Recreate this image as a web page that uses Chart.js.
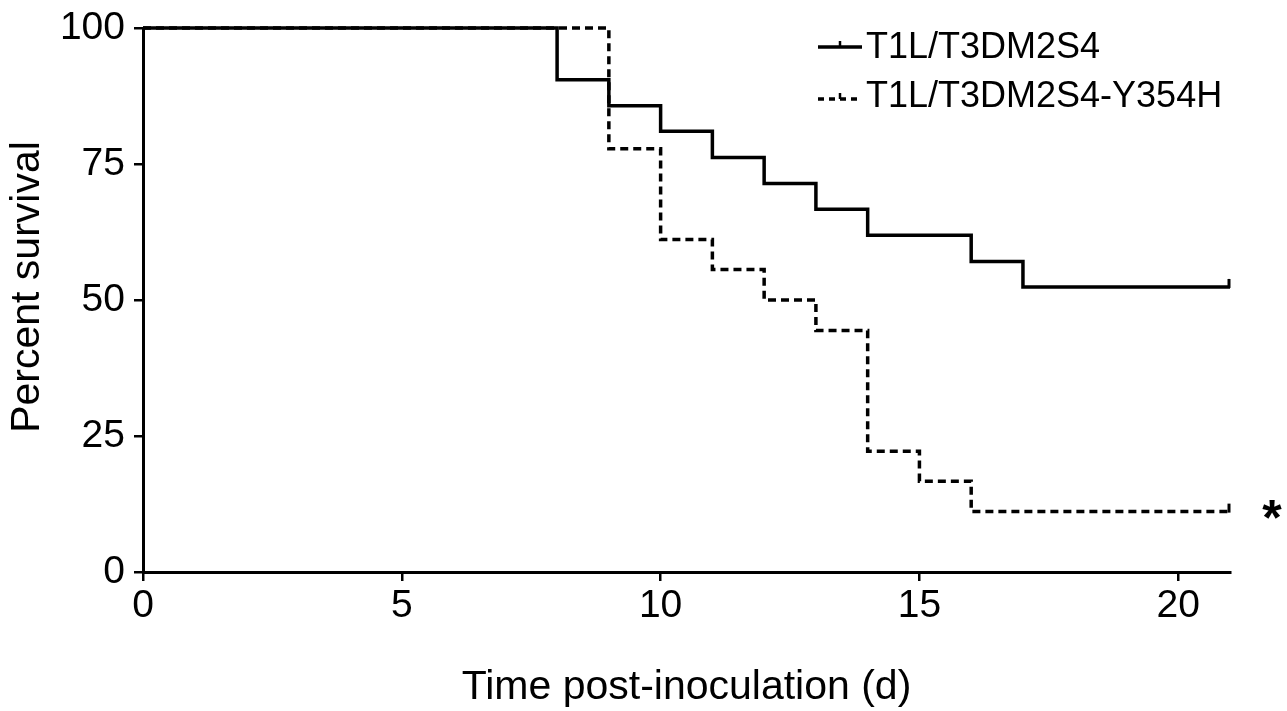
<!DOCTYPE html>
<html>
<head>
<meta charset="utf-8">
<script src="https://cdn.jsdelivr.net/npm/chart.js@4"></script>
<style>
  html, body { margin: 0; padding: 0; background: #fff; }
  #wrap { width: 1287px; height: 711px; }
</style>
</head>
<body>
<div id="wrap"><canvas id="c" width="1287" height="711"></canvas></div>
<script>
// ---- data ----
const seriesNames = ['T1L/T3DM2S4', 'T1L/T3DM2S4-Y354H'];
const timesA = [0, 8, 9, 10, 11, 12, 13, 14, 16, 17, 21];
const survA  = [100, 90.5, 85.7, 81.0, 76.2, 71.4, 66.7, 61.9, 57.1, 52.4, 52.4];
const timesB = [0, 9, 10, 11, 12, 13, 14, 15, 16, 21];
const survB  = [100, 77.8, 61.1, 55.6, 50.0, 44.4, 22.2, 16.7, 11.1, 11.1];
const censorA = [21];
const censorB = [21];
const xTicks = [0, 5, 10, 15, 20];
const yTicks = [0, 25, 50, 75, 100];
const xTitle = 'Time post-inoculation (d)';
const yTitle = 'Percent survival';
const signifMark = '*';

const FONT = "'Liberation Sans', Arial, Helvetica, sans-serif";

function pts(xs, ys) { return xs.map((x, i) => ({ x: x, y: ys[i] })); }

const censorPlugin = {
  id: 'censor',
  afterDatasetsDraw(chart) {
    const ctx = chart.ctx;
    const xs = chart.scales.x, ys = chart.scales.y;
    const sets = [[censorA, timesA, survA], [censorB, timesB, survB]];
    ctx.save();
    ctx.strokeStyle = '#000';
    ctx.lineWidth = 3;
    sets.forEach(([cx, tx, sy]) => {
      cx.forEach(t => {
        let v = sy[0];
        for (let i = 0; i < tx.length; i++) if (tx[i] <= t) v = sy[i];
        const px = xs.getPixelForValue(t) - 1;
        const py = ys.getPixelForValue(v);
        ctx.beginPath();
        ctx.moveTo(px, py + 1);
        ctx.lineTo(px, py - 8);
        ctx.stroke();
      });
    });
    const lastB = survB[survB.length - 1];
    ctx.fillStyle = '#000';
    ctx.font = 'bold 50px ' + FONT;
    ctx.textAlign = 'center';
    ctx.textBaseline = 'alphabetic';
    ctx.fillText(signifMark, xs.getPixelForValue(xs.max) + 42, ys.getPixelForValue(lastB) + 23);
    ctx.restore();
  }
};

const legendPlugin = {
  id: 'customLegend',
  afterDraw(chart) {
    const ctx = chart.ctx;
    const rows = [
      { name: seriesNames[0], dash: [], y: 47, ty: 47 },
      { name: seriesNames[1], dash: [6, 5], y: 99, ty: 96 }
    ];
    ctx.save();
    rows.forEach(r => {
      ctx.strokeStyle = '#000';
      ctx.lineWidth = 3.5;
      ctx.setLineDash(r.dash);
      ctx.beginPath();
      ctx.moveTo(818, r.y);
      ctx.lineTo(862, r.y);
      ctx.stroke();
      ctx.setLineDash([]);
      ctx.lineWidth = 2.5;
      ctx.beginPath();
      ctx.moveTo(840, r.y);
      ctx.lineTo(840, r.y - 6);
      ctx.stroke();
      ctx.fillStyle = '#000';
      ctx.font = '36px ' + FONT;
      ctx.textAlign = 'left';
      ctx.textBaseline = 'middle';
      ctx.fillText(r.name, 866, r.ty + 1);
    });
    ctx.font = '41px ' + FONT;
    ctx.textAlign = 'center';
    ctx.textBaseline = 'middle';
    ctx.translate(28, 287);
    ctx.rotate(-Math.PI / 2);
    ctx.fillText(yTitle, 0, 0);
    ctx.restore();
  }
};

new Chart(document.getElementById('c'), {
  type: 'line',
  data: {
    datasets: [
      {
        label: seriesNames[0],
        data: pts(timesA, survA),
        borderColor: '#000',
        borderWidth: 3.5,
        stepped: 'before',
        pointRadius: 0,
        fill: false,
        clip: 8,
        order: 0
      },
      {
        label: seriesNames[1],
        data: pts(timesB, survB),
        borderColor: '#000',
        borderWidth: 3.5,
        borderDash: [8, 5],
        stepped: 'before',
        pointRadius: 0,
        fill: false,
        clip: 8,
        order: 1
      }
    ]
  },
  options: {
    responsive: false,
    animation: false,
    devicePixelRatio: 1,
    layout: { padding: { top: 28, right: 57, bottom: 0, left: 0 } },
    plugins: {
      legend: { display: false },
      tooltip: { enabled: false }
    },
    scales: {
      x: {
        type: 'linear',
        min: 0, max: 21,
        afterFit(s) { s.height = 139; },
        afterBuildTicks(s) { s.ticks = xTicks.map(v => ({ value: v })); },
        ticks: { color: '#000', font: { family: FONT, size: 39 }, padding: 2, maxRotation: 0, autoSkip: false },
        grid: { display: true, drawOnChartArea: false, drawTicks: true, tickLength: 9, color: '#000', lineWidth: 2.5 },
        border: { display: true, color: '#000', width: 3 },
        title: { display: true, text: xTitle, color: '#000', font: { family: FONT, size: 41, lineHeight: 1.15 }, padding: { top: 0, bottom: 0 } }
      },
      y: {
        type: 'linear',
        min: 0, max: 100,
        afterFit(s) { s.width = 143; },
        afterBuildTicks(s) { s.ticks = yTicks.map(v => ({ value: v })); },
        ticks: { color: '#000', font: { family: FONT, size: 39, lineHeight: 0.9 }, padding: 9, autoSkip: false },
        grid: { display: true, drawOnChartArea: false, drawTicks: true, tickLength: 9, color: '#000', lineWidth: 2.5 },
        border: { display: true, color: '#000', width: 3 }
      }
    }
  },
  plugins: [censorPlugin, legendPlugin]
});
</script>
</body>
</html>
